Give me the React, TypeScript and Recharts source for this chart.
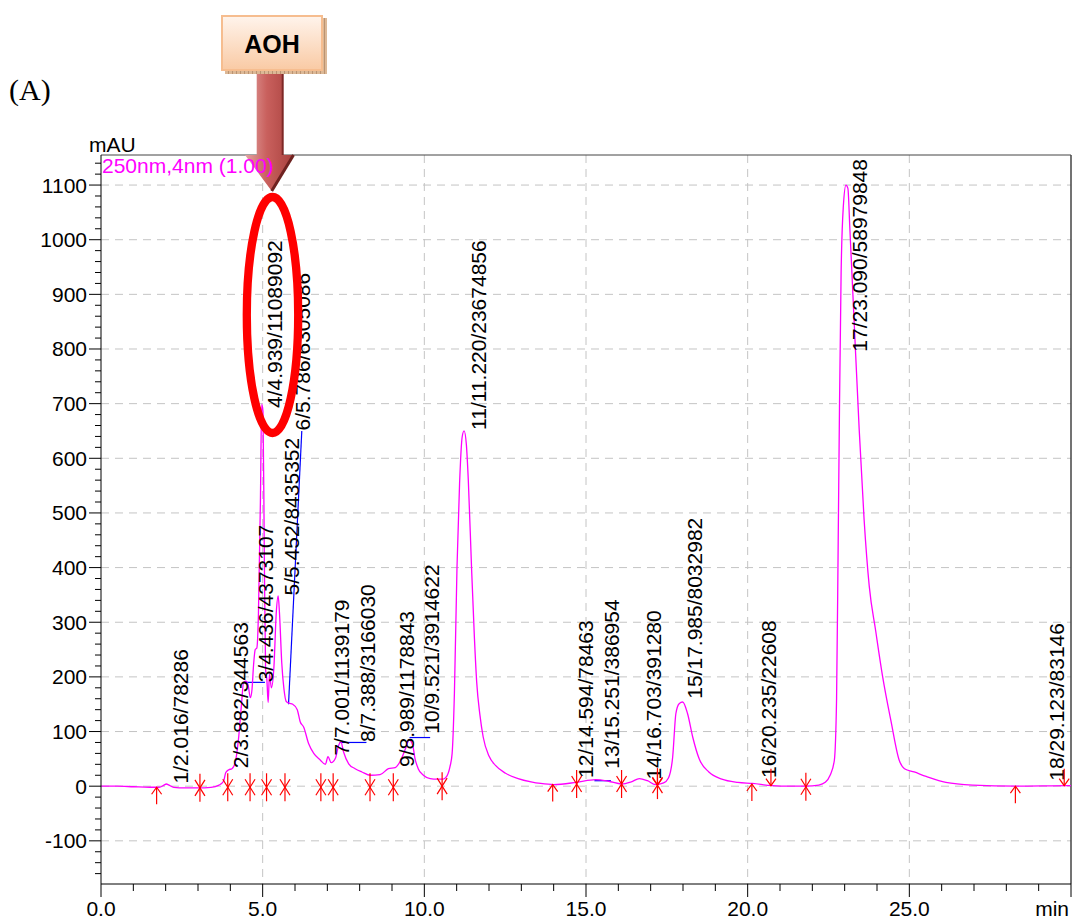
import React from 'react';
import { ComposedChart, Line, XAxis, YAxis, CartesianGrid, Scatter, ReferenceLine } from 'recharts';

// ---- chromatogram trace (time in min, signal in mAU) ----
const traceTime = [
  0.0, 0.5, 1.0, 1.5, 1.8, 1.95, 2.02, 2.1, 2.25, 2.6, 3.0, 3.4, 3.65, 3.79, 3.86, 3.95, 4.05, 4.15, 4.25, 4.34,
  4.41, 4.48, 4.55, 4.62, 4.67, 4.72, 4.77, 4.82, 4.87, 4.93, 4.97, 5.01, 5.05, 5.09, 5.13, 5.17, 5.21, 5.27,
  5.35, 5.42, 5.48, 5.52, 5.59, 5.66, 5.73, 5.81, 5.93, 6.07, 6.16, 6.27, 6.42, 6.58, 6.78, 6.94, 7.02, 7.12,
  7.25, 7.35, 7.42, 7.5, 7.66, 7.86, 8.07, 8.33, 8.63, 8.89, 9.1, 9.25, 9.44, 9.53, 9.64, 9.71, 9.81, 9.97,
  10.18, 10.4, 10.58, 10.68, 10.79, 10.86, 10.93, 11.01, 11.09, 11.17, 11.23, 11.3, 11.36, 11.46, 11.55, 11.62,
  11.72, 11.82, 12.0, 12.2, 12.5, 12.9, 13.3, 13.6, 14.0, 14.7, 15.3, 15.7, 16.1, 16.4, 16.65, 16.9, 17.15,
  17.4, 17.55, 17.68, 17.78, 17.88, 17.99, 18.14, 18.3, 18.5, 18.8, 19.2, 19.7, 20.15, 20.75, 21.3, 21.8, 22.2,
  22.4, 22.55, 22.68, 22.75, 22.8, 22.84, 22.89, 22.96, 23.04, 23.1, 23.16, 23.3, 23.45, 23.6, 23.76, 23.96,
  24.17, 24.43, 24.69, 24.85, 25.15, 25.52, 26.13, 26.96, 28.3, 29.95, 30.0,
];
const traceSignal = [
  0, 0, -1, -2, -2, 2, 4, 2, -2, -3, -3, -2, 2, 9, 25, 30, 32, 43, 85, 146,
  190, 192, 185, 162, 177, 223, 250, 253, 317, 520, 699, 685, 430, 215, 195, 153, 205, 180,
  220, 317, 348, 317, 226, 177, 155, 152, 150, 140, 118, 108, 78, 60, 48, 40, 54, 43,
  51, 75, 81, 63, 41, 32, 26, 20, 21, 32, 34, 45, 72, 85, 75, 51, 32, 20,
  14, 13, 13, 17, 35, 60, 170, 400, 554, 639, 650, 625, 560, 400, 270, 190,
  130, 90, 55, 38, 24, 14, 8, 5, 3, 7, 12, 9, 4, 8, 14, 10, 3,
  6, 15, 53, 133, 151, 154, 133, 90, 50, 26, 13, 7, 5, 1, 0, 0, 2,
  7, 20, 47, 161, 448, 693, 939, 1062, 1100, 1094, 1021, 841, 652, 489, 366, 284,
  202, 120, 47, 32, 26, 18, 7, 2, 0, 1, 1,
];

// ---- peak labels ----
const peakLabels = [
  '1/2.016/78286', '2/3.882/344563', '3/4.436/4373107', '4/4.939/11089092', '5/5.452/8435352',
  '6/5.786/6305086', '7/7.001/1139179', '8/7.388/3166030', '9/8.989/1178843', '10/9.521/3914622',
  '11/11.220/23674856', '12/14.594/78463', '13/15.251/386954', '14/16.703/391280', '15/17.985/8032982',
  '16/20.235/22608', '17/23.090/58979848', '18/29.123/83146',
];
const labelTime = [2.45, 4.3, 5.08, 5.38, 5.88, 6.22, 7.44, 8.23, 9.46, 10.23, 11.66, 14.98, 15.78, 17.1, 18.37, 20.63, 23.47, 29.54];
const labelSignal = [5, 33, 190, 692, 349, 651, 56, 81, 35, 96, 652, 15, 32, 12, 160, 15, 795, 10];

// ---- integration markers ----
const markerTime = [1.72, 3.06, 3.92, 4.61, 5.12, 5.69, 6.8, 7.18, 8.32, 9.04, 10.55, 13.97, 14.71, 16.1, 17.21, 17.21, 20.13, 20.72, 21.8, 28.28, 29.79];
const markerSignal = [-2, -3, -2, -2, -2, -2, -2, -2, -2, -2, 0, 3, 4, 4, 2, 2, 4, 1, -1, 0, 1];
const markerKind = ['up', 'star', 'star', 'star', 'star', 'star', 'star', 'star', 'star', 'star', 'star', 'up', 'star', 'star', 'star', 'down', 'up', 'down', 'star', 'up', 'down'];

// ---- blue baseline segments: [t1, v1, t2, v2] ----
const blueSegments = [
  [4.45, 190, 5.07, 190],
  [5.8, 150, 6.21, 650],
  [7.38, 80, 8.21, 80],
  [9.54, 89, 10.18, 89],
  [15.26, 10, 15.77, 10],
];

// ---- axes ----
const xTicks = [0, 1, 2, 3, 4, 5, 6, 7, 8, 9, 10, 11, 12, 13, 14, 15, 16, 17, 18, 19, 20, 21, 22, 23, 24, 25, 26, 27, 28, 29, 30];
const xGrid = [5, 10, 15, 20, 25];
const yTicks = [
  -160, -140, -120, -100, -80, -60, -40, -20, 0, 20, 40, 60, 80, 100, 120, 140, 160, 180, 200, 220, 240, 260, 280,
  300, 320, 340, 360, 380, 400, 420, 440, 460, 480, 500, 520, 540, 560, 580, 600, 620, 640, 660, 680, 700, 720,
  740, 760, 780, 800, 820, 840, 860, 880, 900, 920, 940, 960, 980, 1000, 1020, 1040, 1060, 1080, 1100, 1120, 1140,
];
const yGrid = [-100, 0, 100, 200, 300, 400, 500, 600, 700, 800, 900, 1000, 1100];
const xDomain = [0, 30];
const yDomain = [-179, 1155];

const FONT = "'Liberation Sans', Arial, Helvetica, sans-serif";

const traceData = traceTime.map((t, i) => ({ t, v: traceSignal[i] }));
const labelData = peakLabels.map((text, i) => ({ t: labelTime[i], v: labelSignal[i], text }));
const markerData = markerTime.map((t, i) => ({ t, v: markerSignal[i], kind: markerKind[i] }));

const YTick = (props: any) => {
  const { x, y, payload } = props;
  const val = payload.value;
  const major = Math.abs(val % 100) === 0;
  return (
    <g>
      <line x1={x - (major ? 12 : 6)} x2={x} y1={y} y2={y} stroke="#000" strokeWidth={1} />
      {major && (
        <text x={x - 14} y={y + 7.5} textAnchor="end" fontSize={21} fontFamily={FONT} fill="#000">
          {val}
        </text>
      )}
    </g>
  );
};

const XTick = (props: any) => {
  const { x, y, payload } = props;
  const val = payload.value;
  const major = val % 5 === 0;
  return (
    <g>
      <line x1={x} x2={x} y1={y} y2={y + (major ? 13 : 7)} stroke="#000" strokeWidth={1} />
      {major && val < 30 && (
        <text x={x} y={y + 31.5} textAnchor="middle" fontSize={21} fontFamily={FONT} fill="#000">
          {val.toFixed(1)}
        </text>
      )}
      {val === 30 && (
        <text x={x - 2} y={y + 31.5} textAnchor="end" fontSize={21} fontFamily={FONT} fill="#000">
          min
        </text>
      )}
    </g>
  );
};

const LabelShape = (props: any) => {
  const { cx, cy, payload } = props;
  if (cx == null || cy == null) return null;
  return (
    <text
      transform={`translate(${cx + 7.5},${cy}) rotate(-90)`}
      textAnchor="start"
      fontSize={21}
      fontFamily={FONT}
      fill="#000"
    >
      {payload.text}
    </text>
  );
};

const MarkerShape = (props: any) => {
  const { cx, cy, payload } = props;
  if (cx == null || cy == null) return null;
  const s = '#ff0000';
  if (payload.kind === 'star') {
    return (
      <g stroke={s} strokeWidth={1.2} fill="none">
        <line x1={cx} y1={cy - 14} x2={cx} y2={cy + 14} />
        <line x1={cx - 5} y1={cy - 8} x2={cx + 5} y2={cy + 8} />
        <line x1={cx - 5} y1={cy + 8} x2={cx + 5} y2={cy - 8} />
      </g>
    );
  }
  if (payload.kind === 'up') {
    return (
      <g stroke={s} strokeWidth={1.2} fill="none">
        <line x1={cx} y1={cy} x2={cx} y2={cy + 17} />
        <polyline points={`${cx - 5},${cy + 7} ${cx},${cy} ${cx + 5},${cy + 7}`} />
      </g>
    );
  }
  return (
    <g stroke={s} strokeWidth={1.2} fill="none">
      <line x1={cx} y1={cy - 17} x2={cx} y2={cy} />
      <polyline points={`${cx - 5},${cy - 7} ${cx},${cy} ${cx + 5},${cy - 7}`} />
    </g>
  );
};

const Overlay = () => (
  <svg
    width={1072}
    height={919}
    style={{ position: 'absolute', left: 0, top: 0, pointerEvents: 'none' }}
  >
    <defs>
      <linearGradient id="boxFill" x1="0" y1="0" x2="0" y2="1">
        <stop offset="0%" stopColor="#fff4ec" />
        <stop offset="100%" stopColor="#f9caa4" />
      </linearGradient>
      <linearGradient id="arrowFill" x1="0" y1="0" x2="1" y2="0">
        <stop offset="0%" stopColor="#e3a3a1" />
        <stop offset="45%" stopColor="#c9605d" />
        <stop offset="100%" stopColor="#a8413e" />
      </linearGradient>
      <pattern id="hatch" width="4" height="4" patternUnits="userSpaceOnUse">
        <rect width="4" height="4" fill="#dcb896" />
        <line x1="0" y1="0" x2="0" y2="4" stroke="#a57a58" strokeWidth="1.2" />
      </pattern>
    </defs>
    {/* (A) */}
    <text x={9} y={100} fontSize={30} fontFamily="'Liberation Serif', 'Times New Roman', serif" fill="#000">
      (A)
    </text>
    {/* mAU */}
    <text x={89} y={151.5} fontSize={21} fontFamily={FONT} fill="#000">
      mAU
    </text>
    {/* AOH arrow */}
    <polygon
      points="256.7,70 282.7,70 282.7,155 293.5,155 271.7,191 245,155 256.7,155"
      fill="url(#arrowFill)"
    />
    <line x1={282.7} y1={70} x2={282.7} y2={155} stroke="#7e2826" strokeWidth={2} />
    <polyline points="293.5,155 271.7,191" fill="none" stroke="#6e2220" strokeWidth={3} />
    {/* 250nm label (drawn over the arrow) */}
    <text x={102} y={173} fontSize={21} fontFamily={FONT} fill="#ff00ff">
      250nm,4nm (1.00)
    </text>
    {/* AOH box with shadow */}
    <rect x={225} y={18} width={102} height={56} fill="url(#hatch)" />
    <rect x={222} y={16} width={100} height={54} fill="url(#boxFill)" stroke="#f6bd8f" strokeWidth={2} />
    <text x={272} y={52.5} textAnchor="middle" fontSize={25} fontWeight="bold" fontFamily={FONT} fill="#000">
      AOH
    </text>
    {/* red ellipse */}
    <ellipse cx={272.5} cy={315} rx={25.7} ry={118} fill="none" stroke="#ff0000" strokeWidth={8.3} />
  </svg>
);

export default function App() {
  return (
    <div style={{ position: 'relative', width: 1072, height: 919, overflow: 'hidden' }}>
      <style>{'html,body{margin:0;padding:0;overflow:hidden;}'}</style>
      <ComposedChart
        width={1072}
        height={919}
        margin={{ top: 155, right: 1, bottom: 0, left: 0 }}
      >
        <CartesianGrid
          stroke="#c4c4c4"
          strokeDasharray="8 6"
          horizontalValues={yGrid}
          verticalValues={xGrid}
        />
        <XAxis
          type="number"
          dataKey="t"
          domain={xDomain}
          allowDataOverflow
          ticks={xTicks}
          interval={0}
          tickSize={0}
          tickMargin={0}
          tickLine={false}
          height={35}
          axisLine={{ stroke: '#000', strokeWidth: 1 }}
          tick={<XTick />}
        />
        <YAxis
          type="number"
          dataKey="v"
          domain={yDomain}
          allowDataOverflow
          ticks={yTicks}
          interval={0}
          tickSize={0}
          tickMargin={0}
          tickLine={false}
          width={101}
          axisLine={{ stroke: '#000', strokeWidth: 1 }}
          tick={<YTick />}
        />
        <ReferenceLine y={1155} stroke="#444" strokeWidth={1} ifOverflow="visible" />
        <ReferenceLine x={30} stroke="#444" strokeWidth={1.5} ifOverflow="visible" />
        {blueSegments.map((s, i) => (
          <ReferenceLine
            key={i}
            segment={[{ x: s[0], y: s[1] }, { x: s[2], y: s[3] }]}
            stroke="#0000ff"
            strokeWidth={1.2}
            ifOverflow="visible"
          />
        ))}
        <Line
          data={traceData}
          dataKey="v"
          type="monotone"
          stroke="#ff00ff"
          strokeWidth={1.3}
          dot={false}
          activeDot={false}
          isAnimationActive={false}
        />
        <Scatter data={labelData} dataKey="v" shape={<LabelShape />} isAnimationActive={false} />
        <Scatter data={markerData} dataKey="v" shape={<MarkerShape />} isAnimationActive={false} />
      </ComposedChart>
      <Overlay />
    </div>
  );
}
